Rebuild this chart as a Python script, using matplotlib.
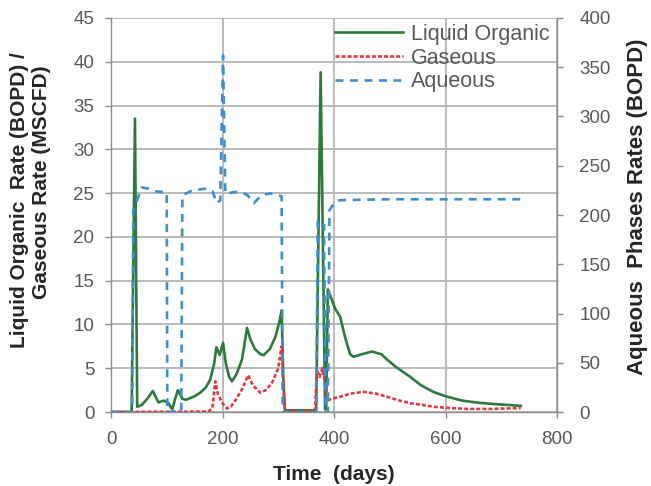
import matplotlib
matplotlib.use("Agg")
import matplotlib.pyplot as plt
from matplotlib.lines import Line2D

plt.rcParams['font.family'] = ['Liberation Sans', 'DejaVu Sans']

# ---------------- data ----------------
liquid_days = [0, 37, 43, 47, 55, 65, 75, 85, 95, 103, 110, 115, 120, 128, 135, 150, 160,
               170, 178, 185, 189, 195, 201, 206, 212, 217, 225, 235, 244, 250, 258, 268,
               274, 285, 295, 302, 306, 309, 312, 340, 368, 376, 384, 386, 389, 395, 402,
               411, 420, 429, 435, 450, 468, 485, 495, 510, 537, 555, 578, 600, 630, 660,
               690, 735]
liquid_rate = [0, 0, 33.5, 0.6, 0.8, 1.5, 2.4, 1.1, 1.3, 1.0, 0.3, 1.5, 2.5, 1.5, 1.4, 1.8, 2.2,
               2.8, 3.7, 5.5, 7.4, 6.5, 7.9, 5.5, 4.0, 3.5, 4.3, 6.0, 9.6, 8.3, 7.2, 6.6,
               6.5, 7.2, 8.6, 10.3, 11.6, 4.0, 0.2, 0.2, 0.2, 38.8, 0.3, 0.3, 14.0, 13.0, 11.8,
               10.9, 8.5, 6.6, 6.3, 6.6, 6.9, 6.6, 6.0, 5.2, 4.0, 3.1, 2.3, 1.8, 1.3, 1.05,
               0.9, 0.7]

gas_days = [0, 175, 182, 187, 192, 200, 208, 215, 225, 235, 246, 255, 268, 280, 290, 300,
            306, 310, 312, 366, 369, 374, 379, 384, 388, 395, 411, 430, 453, 475, 495, 515,
            537, 560, 578, 610, 639, 680, 735]
gas_rate = [0, 0.05, 0.5, 3.5, 2.0, 1.0, 0.4, 0.6, 1.5, 2.6, 4.2, 3.0, 2.2, 2.6, 3.5, 5.0,
            7.5, 2.0, 0.1, 0.1, 4.8, 4.0, 5.0, 3.2, 1.3, 1.5, 1.75, 2.1, 2.3, 2.1, 1.75, 1.35,
            1.0, 0.8, 0.6, 0.45, 0.35, 0.35, 0.45]

aq_days = [0, 38, 40, 45, 55, 65, 80, 100, 101, 126, 128, 142, 160, 172, 182, 190, 196, 201,
           205, 220, 232, 245, 256, 270, 286, 306, 308, 368, 371, 382, 385, 389, 392, 400,
           410, 500, 600, 735]
aq_rate = [0, 0, 205, 212, 228, 227, 224, 223, 0, 0, 220, 224, 226, 227, 224, 212, 215, 362,
           222, 223, 224, 220, 212, 220, 222, 219, 0, 0, 195, 190, 0, 0, 205, 212,
           215, 216, 216, 216]

x_ticks = [0, 200, 400, 600, 800]
left_ticks = [0, 5, 10, 15, 20, 25, 30, 35, 40, 45]
right_ticks = [0, 50, 100, 150, 200, 250, 300, 350, 400]

# ---------------- styles ----------------
GREEN = '#2c7a3c'
RED = '#e8383d'
BLUE = '#3d8fd0'
GRID = '#b5b5b5'
SPINE = '#8c8c8c'
TICKC = '#595959'
LABC = '#262626'

fig = plt.figure(figsize=(6.51, 4.86), dpi=100)
ax = fig.add_axes([111/651, 1-412/486, (557-111)/651, (412-18)/486])
ax2 = ax.twinx()

ax.plot(liquid_days, liquid_rate, color=GREEN, lw=1.9, zorder=3)
ax.plot(gas_days, gas_rate, color=RED, lw=1.9, linestyle=(0, (1.5, 0.8)), zorder=3)
ax2.plot(aq_days, aq_rate, color=BLUE, lw=1.9, linestyle=(0, (3, 2.5)), zorder=2)

ax.set_xlim(0, 800)
ax.set_ylim(0, 45)
ax2.set_ylim(0, 400)
ax.set_xticks(x_ticks)
ax.set_yticks(left_ticks)
ax2.set_yticks(right_ticks)

ax.grid(True, color=GRID, lw=1.3)
ax.set_axisbelow(True)

for a in (ax, ax2):
    for s in a.spines.values():
        s.set_color(SPINE)
        s.set_linewidth(1.0)
    a.spines['top'].set_visible(False)
ax.spines['right'].set_visible(False)
ax2.spines['left'].set_visible(False)
ax2.spines['bottom'].set_visible(False)

ax.tick_params(axis='both', colors=SPINE, labelcolor=TICKC, labelsize=13.5,
               length=4, width=1.0, direction='out', pad=10)
ax2.tick_params(axis='y', colors=SPINE, labelcolor=TICKC, labelsize=13.5,
                length=4, width=1.0, direction='out', pad=12)
ax.tick_params(axis='y', pad=8)

ax.set_xlabel('Time  (days)', fontsize=15, fontweight='bold', color=LABC, labelpad=12)

fig.text(20/651, 1-200/486, 'Liquid Organic  Rate (BOPD) /', rotation=90,
         ha='center', va='center', fontsize=15, fontweight='bold', color=LABC)
fig.text(42/651, 1-182/486, 'Gaseous Rate (MSCFD)', rotation=90,
         ha='center', va='center', fontsize=15, fontweight='bold', color=LABC)
fig.text(637/651, 1-207/486, 'Aqueous  Phases Rates (BOPD)', rotation=90,
         ha='center', va='center', fontsize=16, fontweight='bold', color=LABC)

handles = [Line2D([], [], color=GREEN, lw=1.9),
           Line2D([], [], color=RED, lw=1.9, linestyle=(0, (1.5, 0.8))),
           Line2D([], [], color=BLUE, lw=1.9, linestyle=(0, (3, 2.5)))]
labels = ['Liquid Organic', 'Gaseous', 'Aqueous']
leg = ax2.legend(handles, labels, loc='upper left', bbox_to_anchor=(335/651, 1-24/486),
                 bbox_transform=fig.transFigure, frameon=False, fontsize=15.5,
                 handlelength=3.16, handletextpad=0.37, labelspacing=0.12,
                 borderpad=0, borderaxespad=0)
for t in leg.get_texts():
    t.set_color(TICKC)

fig.savefig('out.png', dpi=100)
